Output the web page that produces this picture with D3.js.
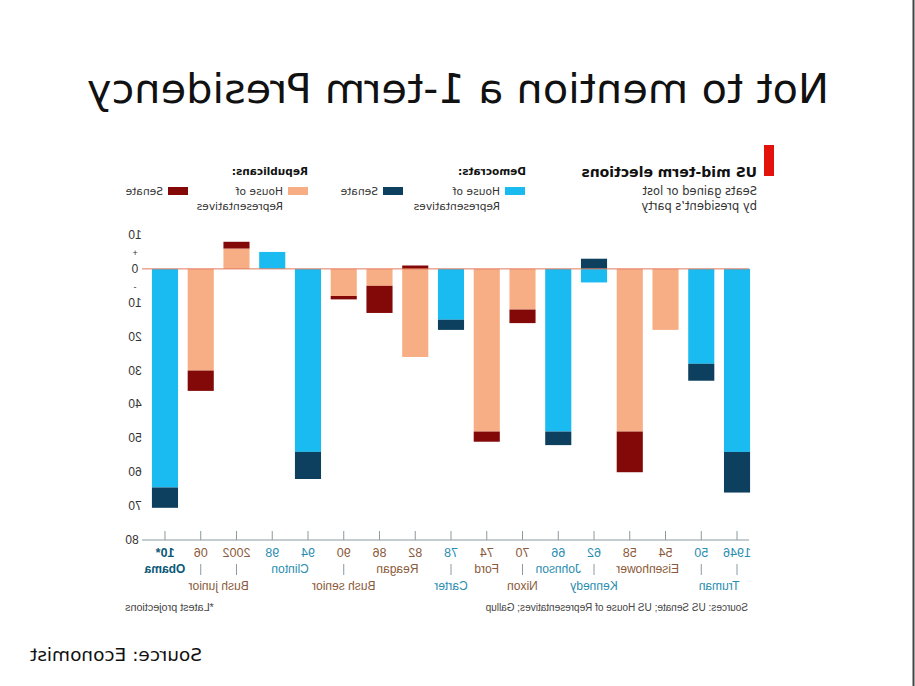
<!DOCTYPE html>
<html lang="en">
<head>
  <meta charset="utf-8">
  <title>Not to mention a 1-term Presidency</title>
  <script type="text/javascript" src="https://cdn.jsdelivr.net/npm/d3@7"></script>
  <style>
    body { margin: 0; background: #fff; }
    /* the reference picture is a mirror image, so the whole drawing is flipped */
    svg { display: block; transform: scaleX(-1); }
  </style>
</head>
<body>
  <script type="text/javascript">

  // data, 1946 -> 2010 (seats gained or lost by the president's party)
  var years   = ["1946", "50", "54", "58", "62", "66", "70", "74", "78", "82", "86", "90", "94", "98", "2002", "06", "10*"];
  var parties = ["D", "D", "R", "R", "D", "D", "R", "R", "D", "R", "R", "R", "D", "D", "R", "R", "D"];
  var house   = [-54, -28, -18, -48, -4, -48, -12, -48, -15, -26, -5, -8, -54, 5, 6, -30, -64.5];
  var senate  = [-12, -5, 0, -12, 3, -4, -4, -3, -3, 1, -8, -1, -8, 0, 2, -6, -6];

  var yTicks = [10, 0, -10, -20, -30, -40, -50, -60, -70, -80];

  // presidents: first and last year covered, row (2 or 3)
  var presidents = [
    { name: "Truman",      from: "1946", to: "50",   row: 3, party: "D" },
    { name: "Eisenhower",  from: "58",   to: "54",   row: 2, party: "R" },
    { name: "Kennedy",     from: "62",   to: "62",   row: 3, party: "D" },
    { name: "Johnson",     from: "66",   to: "66",   row: 2, party: "D" },
    { name: "Nixon",       from: "70",   to: "70",   row: 3, party: "R" },
    { name: "Ford",        from: "74",   to: "74",   row: 2, party: "R" },
    { name: "Carter",      from: "78",   to: "78",   row: 3, party: "D" },
    { name: "Reagan",      from: "82",   to: "86",   row: 2, party: "R" },
    { name: "Bush senior", from: "90",   to: "90",   row: 3, party: "R" },
    { name: "Clinton",     from: "94",   to: "98",   row: 2, party: "D" },
    { name: "Bush junior", from: "2002", to: "06",   row: 3, party: "R" },
    { name: "Obama",       from: "10*",  to: "10*",  row: 2, party: "D", bold: true }
  ];
  var separators = ["1946", "50", "62", "70", "78", "90", "2002", "06"];

  var width = 915, height = 686;
  var colors = {
    D: { house: "#19bbf1", senate: "#0d3f5e", text: "#2a8db0" },
    R: { house: "#f8ae84", senate: "#830808", text: "#8b5a3a" }
  };

  var rows = years.map(function(y, i) {
    var h = house[i], s = senate[i];
    var sStart = (s * h > 0) ? h : 0;
    return { year: y, party: parties[i], h: h, s: s, sStart: sStart };
  });

  var svg = d3.select("body").append("svg")
    .attr("width", width)
    .attr("height", height)
    .attr("viewBox", [0, 0, width, height]);

  var font = "'Liberation Sans', Arial, sans-serif";
  var wide = "'DejaVu Sans', Verdana, sans-serif";

  // frame line on the side
  svg.append("line")
    .attr("x1", 1.5).attr("x2", 1.5).attr("y1", 0).attr("y2", height)
    .attr("stroke", "#444").attr("stroke-width", 2);

  // title
  svg.append("text")
    .attr("x", 457).attr("y", 103)
    .attr("text-anchor", "middle")
    .attr("font-family", wide)
    .attr("font-size", 41.5)
    .attr("fill", "#111")
    .text("Not to mention a 1-term Presidency");

  var x = d3.scaleBand()
    .domain(years)
    .range([160.1, 767.9])
    .paddingInner(0.27)
    .paddingOuter(0.135);

  var y = d3.scaleLinear()
    .domain([10, -80])
    .range([235, 540]);

  var cx = function(yr) { return x(yr) + x.bandwidth() / 2; };

  // header
  svg.append("rect")
    .attr("x", 141).attr("y", 145).attr("width", 10).attr("height", 31)
    .attr("fill", "#e3120b");
  svg.append("text")
    .attr("x", 158).attr("y", 177)
    .attr("font-family", wide).attr("font-size", 14).attr("font-weight", "bold")
    .attr("fill", "#111")
    .text("US mid-term elections");
  svg.append("text")
    .attr("font-family", wide).attr("font-size", 11.5).attr("fill", "#333")
    .selectAll("tspan")
    .data(["Seats gained or lost", "by president\u2019s party"])
    .join("tspan")
    .attr("x", 158)
    .attr("y", (d, i) => 195 + i * 15)
    .text(d => d);

  // legend
  var legend = [
    { head: "Democrats:", x: 389, items: [
      { label: ["House of", "Representatives"], color: colors.D.house, x: 390 },
      { label: ["Senate"], color: colors.D.senate, x: 512 } ] },
    { head: "Republicans:", x: 607, items: [
      { label: ["House of", "Representatives"], color: colors.R.house, x: 607 },
      { label: ["Senate"], color: colors.R.senate, x: 727 } ] }
  ];
  legend.forEach(function(g) {
    svg.append("text")
      .attr("x", g.x).attr("y", 175)
      .attr("font-family", wide).attr("font-size", 10.5).attr("font-weight", "bold")
      .attr("fill", "#111")
      .text(g.head);
    g.items.forEach(function(it) {
      svg.append("rect")
        .attr("x", it.x).attr("y", 187).attr("width", 20).attr("height", 8)
        .attr("fill", it.color);
      svg.append("text")
        .attr("font-family", wide).attr("font-size", 10.7).attr("fill", "#333")
        .selectAll("tspan")
        .data(it.label)
        .join("tspan")
        .attr("x", it.x + 25)
        .attr("y", (d, i) => 195 + i * 15)
        .text(d => d);
    });
  });

  // bars: house first, then senate stacked on it
  var bars = svg.append("g");
  bars.selectAll("rect.house")
    .data(rows)
    .join("rect")
    .attr("class", "house")
    .attr("x", d => x(d.year))
    .attr("width", x.bandwidth())
    .attr("y", d => y(Math.max(0, d.h)))
    .attr("height", d => Math.abs(y(d.h) - y(0)))
    .attr("fill", d => colors[d.party].house);
  bars.selectAll("rect.senate")
    .data(rows.filter(d => d.s !== 0))
    .join("rect")
    .attr("class", "senate")
    .attr("x", d => x(d.year))
    .attr("width", x.bandwidth())
    .attr("y", d => Math.min(y(d.sStart), y(d.sStart + d.s)))
    .attr("height", d => Math.abs(y(d.sStart + d.s) - y(d.sStart)))
    .attr("fill", d => colors[d.party].senate);

  // zero line
  svg.append("line")
    .attr("x1", 166).attr("x2", 773)
    .attr("y1", y(0)).attr("y2", y(0))
    .attr("stroke", "#e27a5e").attr("stroke-width", 1);

  // bottom axis line with ticks at bar centres
  svg.append("line")
    .attr("x1", 166).attr("x2", 773)
    .attr("y1", y(-80)).attr("y2", y(-80))
    .attr("stroke", "#8a9aa0").attr("stroke-width", 1);
  svg.append("g")
    .selectAll("line")
    .data(years)
    .join("line")
    .attr("x1", d => cx(d)).attr("x2", d => cx(d))
    .attr("y1", y(-80) - 9).attr("y2", y(-80))
    .attr("stroke", "#8a9aa0").attr("stroke-width", 1);

  // y labels (shown without sign) plus the + / - marks
  var yl = svg.append("g")
    .attr("font-family", font).attr("font-size", 12).attr("fill", "#333")
    .attr("text-anchor", "middle");
  yl.selectAll("text.tick")
    .data(yTicks)
    .join("text")
    .attr("class", "tick")
    .attr("x", d => d === -80 ? 783 : 780)
    .attr("y", d => y(d) + 4)
    .text(d => Math.abs(d));
  yl.append("text").attr("x", 780).attr("y", y(5) + 4).attr("font-size", 9).text("+");
  yl.append("text").attr("x", 780).attr("y", y(-5) + 4).attr("font-size", 9).text("-");

  // year labels
  svg.append("g")
    .attr("font-family", font).attr("font-size", 12.5).attr("text-anchor", "middle")
    .selectAll("text")
    .data(rows)
    .join("text")
    .attr("x", d => cx(d.year))
    .attr("y", 557)
    .attr("fill", d => d.year === "10*" ? "#0b5877" : colors[d.party].text)
    .attr("font-weight", d => d.year === "10*" ? "bold" : null)
    .text(d => d.year);

  // separators in the second row
  svg.append("g")
    .selectAll("line")
    .data(separators)
    .join("line")
    .attr("x1", d => cx(d)).attr("x2", d => cx(d))
    .attr("y1", 564).attr("y2", 575)
    .attr("stroke", "#8a9aa0").attr("stroke-width", 1);

  // president names
  svg.append("g")
    .attr("font-family", font).attr("font-size", 12).attr("text-anchor", "middle")
    .selectAll("text")
    .data(presidents)
    .join("text")
    .attr("x", d => (cx(d.from) + cx(d.to)) / 2)
    .attr("y", d => d.row === 2 ? 573 : 590)
    .attr("fill", d => d.bold ? "#0b5877" : colors[d.party].text)
    .attr("font-weight", d => d.bold ? "bold" : null)
    .text(d => d.name);

  // notes
  svg.append("text")
    .attr("x", 167).attr("y", 611)
    .attr("font-family", font).attr("font-size", 10).attr("fill", "#444")
    .text("Sources: US Senate; US House of Representatives; Gallup");
  svg.append("text")
    .attr("x", 790).attr("y", 611).attr("text-anchor", "end")
    .attr("font-family", font).attr("font-size", 10.8).attr("fill", "#444")
    .text("*Latest projections");

  svg.append("text")
    .attr("x", 885).attr("y", 661).attr("text-anchor", "end")
    .attr("font-family", wide)
    .attr("font-size", 18.5)
    .attr("fill", "#111")
    .text("Source: Economist");

  </script>
</body>
</html>
